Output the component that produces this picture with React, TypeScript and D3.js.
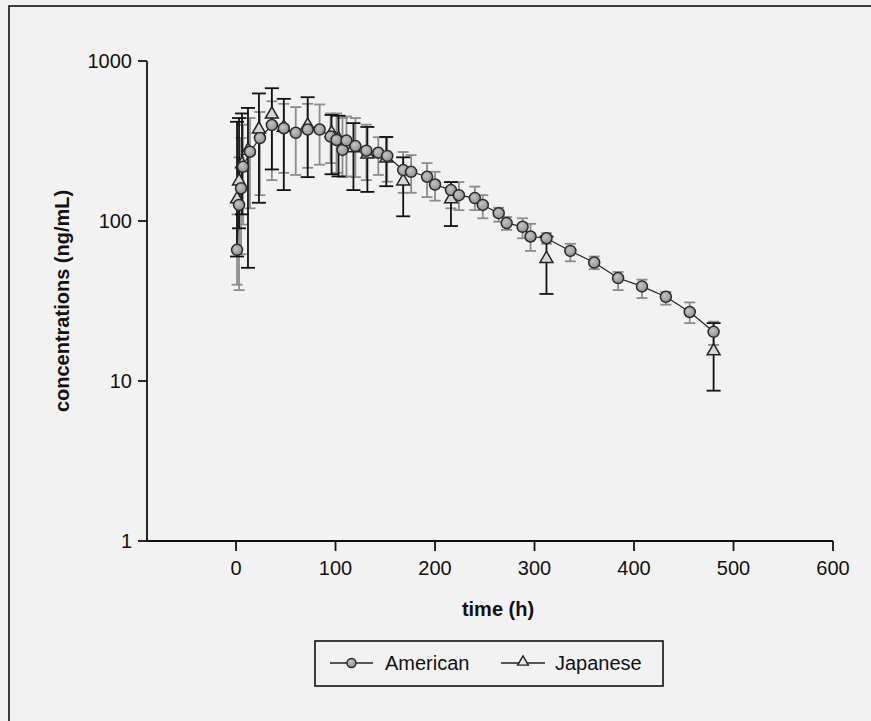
import React from "react";
import * as d3 from "d3";

const americanTime = [1, 3, 5, 7, 14, 24, 36, 48, 60, 72, 84, 95, 101, 107, 111, 120, 131, 143, 152, 168, 176, 192, 200, 216, 224, 240, 248, 264, 272, 288, 296, 312, 336, 360, 384, 408, 432, 456, 480];
const americanMean = [66, 126, 160, 218, 271, 330, 398, 380, 356, 373, 373, 337, 321, 278, 318, 294, 275, 267, 255, 208, 203, 189, 169, 156, 145, 139, 126, 112, 97, 92, 80, 78, 65, 55, 44, 39, 33.6, 27, 20.3];
const americanLow = [40, 37, 62, 95, 120, 145, 180, 200, 194, 215, 225, 230, 200, 188, 190, 188, 180, 194, 176, 150, 150, 141, 134, 120, 117, 117, 104, 99, 88, 78, 65, 72, 56, 50, 37, 33, 30, 23, 16.8];
const americanHigh = [110, 250, 330, 400, 440, 480, 560, 540, 515, 540, 535, 470, 470, 440, 450, 440, 400, 334, 334, 270, 258, 230, 203, 175, 175, 164, 145, 121, 106, 104, 96, 84, 72, 60, 48, 43, 36, 31, 23.5];

const japaneseTime = [1, 3, 6, 12, 23, 36, 48, 72, 96, 103, 118, 132, 151, 168, 216, 312, 480];
const japaneseMean = [139, 180, 230, 280, 380, 471, 390, 402, 360, 330, 290, 265, 250, 180, 139, 59, 15.6];
const japaneseLow = [60, 90, 110, 51, 130, 210, 156, 188, 196, 190, 156, 152, 165, 107, 93, 35, 8.7];
const japaneseHigh = [417, 440, 470, 509, 627, 676, 580, 594, 460, 455, 409, 387, 335, 250, 175, 80, 23];

const xTicks = [0, 100, 200, 300, 400, 500, 600];
const yTicks = [1, 10, 100, 1000];
const seriesNames = ["American", "Japanese"];

const W = 871;
const H = 721;
const FONT = "'Liberation Sans', Arial, Helvetica, sans-serif";

export default function App() {
  const x = d3.scaleLinear().domain([-89.5, 600]).range([147, 833]);
  const y = d3.scaleLog().domain([1, 1000]).range([541, 61]);

  const am = americanTime.map((t, i) => ({ t, m: americanMean[i], lo: americanLow[i], hi: americanHigh[i] }));
  const jp = japaneseTime.map((t, i) => ({ t, m: japaneseMean[i], lo: japaneseLow[i], hi: japaneseHigh[i] }));

  const line = d3.line<{ t: number; m: number }>().x(d => x(d.t)).y(d => y(d.m));
  const tri = d3.symbol().type(d3.symbolTriangle).size(72)();
  const triLegend = d3.symbol().type(d3.symbolTriangle).size(50)();

  const capA = 5.5;
  const capJ = 7;

  return (
    <svg width={W} height={H} style={{ position: "absolute", left: 0, top: 0 }} fontFamily={FONT}>
      <defs>
        <radialGradient id="ballFill" cx="40%" cy="38%" r="65%">
          <stop offset="0%" stopColor="#c4c4c4" />
          <stop offset="100%" stopColor="#8e8e8e" />
        </radialGradient>
      </defs>
      <rect x={0} y={0} width={W} height={H} fill="#f2f2f2" />
      <rect x={9} y={6} width={W + 20} height={H + 20} fill="none" stroke="#111" strokeWidth={1.6} />

      {/* axes */}
      <line x1={x(-89.5)} x2={x(600)} y1={y(1)} y2={y(1)} stroke="#111" strokeWidth={1.8} />
      <line x1={x(-89.5)} x2={x(-89.5)} y1={y(1)} y2={y(1000)} stroke="#111" strokeWidth={1.8} />
      {yTicks.map(v => (
        <g key={"y" + v}>
          <line x1={x(-89.5) - 9} x2={x(-89.5)} y1={y(v)} y2={y(v)} stroke="#111" strokeWidth={1.8} />
          <text x={x(-89.5) - 15} y={y(v)} dy="0.36em" textAnchor="end" fontSize={20} fill="#111">{v}</text>
        </g>
      ))}
      {xTicks.map(v => (
        <g key={"x" + v}>
          <line x1={x(v)} x2={x(v)} y1={y(1)} y2={y(1) + 10} stroke="#111" strokeWidth={1.8} />
          <text x={x(v)} y={575} textAnchor="middle" fontSize={20} fill="#111">{v}</text>
        </g>
      ))}
      <text x={498} y={616} textAnchor="middle" fontSize={20} fontWeight="bold" fill="#111">time (h)</text>
      <text transform="translate(69,301) rotate(-90)" textAnchor="middle" fontSize={20} fontWeight="bold" fill="#111">concentrations (ng/mL)</text>

      {/* American error bars (grey) */}
      {am.map((d, i) => (
        <g key={"ae" + i} stroke="#8c8c8c" strokeWidth={1.8}>
          <line x1={x(d.t)} x2={x(d.t)} y1={y(d.lo)} y2={y(d.hi)} />
          <line x1={x(d.t) - capA} x2={x(d.t) + capA} y1={y(d.lo)} y2={y(d.lo)} />
          <line x1={x(d.t) - capA} x2={x(d.t) + capA} y1={y(d.hi)} y2={y(d.hi)} />
        </g>
      ))}
      {/* Japanese error bars (black) */}
      {jp.map((d, i) => (
        <g key={"je" + i} stroke="#111" strokeWidth={1.8}>
          <line x1={x(d.t)} x2={x(d.t)} y1={y(d.lo)} y2={y(d.hi)} />
          <line x1={x(d.t) - capJ} x2={x(d.t) + capJ} y1={y(d.lo)} y2={y(d.lo)} />
          <line x1={x(d.t) - capJ} x2={x(d.t) + capJ} y1={y(d.hi)} y2={y(d.hi)} />
        </g>
      ))}
      <path d={line(am) || ""} fill="none" stroke="#222" strokeWidth={1.2} />
      {jp.map((d, i) => (
        <path key={"jt" + i} d={tri} transform={`translate(${x(d.t)},${y(d.m) + 1})`} fill="#d6d6d6" stroke="#222" strokeWidth={1.5} />
      ))}
      {am.map((d, i) => (
        <circle key={"ac" + i} cx={x(d.t)} cy={y(d.m)} r={5.5} fill="url(#ballFill)" stroke="#2a2a2a" strokeWidth={1.5} />
      ))}

      {/* legend */}
      <rect x={315} y={641} width={348} height={45} fill="none" stroke="#111" strokeWidth={1.6} />
      <line x1={330} x2={373} y1={663} y2={663} stroke="#222" strokeWidth={1.4} />
      <circle cx={351.5} cy={663} r={4.5} fill="url(#ballFill)" stroke="#2a2a2a" strokeWidth={1.4} />
      <text x={385} y={670} fontSize={20} fill="#111">{seriesNames[0]}</text>
      <line x1={501} x2={545} y1={663} y2={663} stroke="#222" strokeWidth={1.4} />
      <path d={triLegend} transform="translate(523,662)" fill="#e6e6e6" stroke="#222" strokeWidth={1.4} />
      <text x={555} y={670} fontSize={20} fill="#111">{seriesNames[1]}</text>
    </svg>
  );
}
